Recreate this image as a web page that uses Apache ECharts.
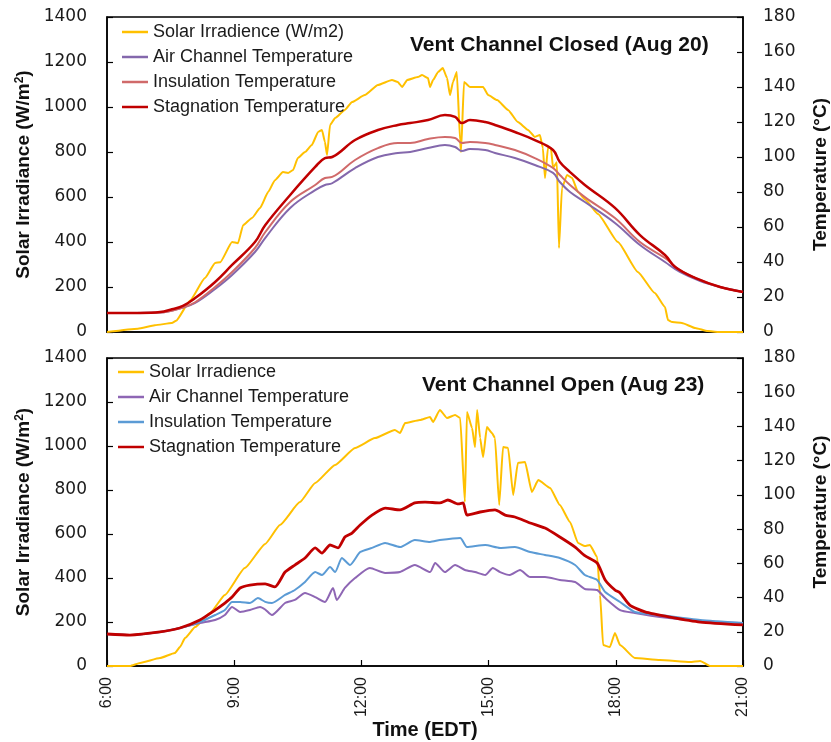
<!DOCTYPE html>
<html>
<head>
<meta charset="utf-8">
<script src="https://cdn.jsdelivr.net/npm/echarts@6/dist/echarts.min.js"></script>
<style>
  html, body { margin: 0; padding: 0; background: #fff; }
  #chart { width: 831px; height: 742px; }
</style>
</head>
<body>
<div id="chart"></div>
<script>
// x ticks (hours of day)
var X_MIN = 6, X_MAX = 21, X_STEP = 3;

// Aug 20, vent channel closed: [hour, value]
var closedSolar = [
  [6.00,0],[6.73,15],[7.13,30],[7.53,40],[7.63,50],[7.96,140],[8.31,240],[8.55,307],[8.67,310],[8.95,400],
  [9.09,395],[9.21,475],[9.42,507],[9.61,551],[9.80,622],[9.96,675],[10.15,711],[10.27,707],[10.39,720],[10.50,773],
  [10.67,800],[10.83,831],[10.98,889],[11.07,898],[11.14,844],[11.19,787],[11.26,920],[11.38,951],[11.61,987],[11.78,1022],
  [12.08,1053],[12.39,1098],[12.72,1120],[12.86,1111],[12.96,1089],[13.08,1120],[13.33,1133],[13.43,1142],[13.57,1129],[13.62,1089],
  [13.69,1120],[13.81,1156],[13.92,1173],[14.02,1129],[14.09,1053],[14.16,1111],[14.25,1156],[14.33,844],[14.35,800],[14.42,1111],
  [14.56,1089],[14.73,1089],[14.87,1089],[14.99,1053],[15.20,1031],[15.46,987],[15.69,933],[15.93,898],[16.09,867],[16.21,876],
  [16.28,818],[16.33,684],[16.40,818],[16.47,818],[16.52,729],[16.61,755],[16.66,373],[16.73,640],[16.85,698],[16.97,684],
  [17.11,622],[17.27,590],[17.58,525],[18.05,400],[18.52,267],[18.92,173],[19.16,111],[19.23,53],[19.33,44],[19.56,40],
  [19.87,18],[20.17,4],[20.41,0],[21.00,0]
];
var closedAir = [
  [6.00,10.9],[7.25,11.2],[7.79,14.0],[8.08,16.6],[8.55,24.6],[8.95,32.6],[9.49,45.7],[9.73,53.7],[10.32,70.9],[10.91,81.1],
  [11.14,84.0],[11.31,85.0],[11.85,93.7],[12.39,100.0],[12.86,102.3],[13.15,102.9],[13.57,105.1],[13.97,106.9],[14.21,105.7],[14.37,103.4],
  [14.56,104.6],[14.92,104.0],[15.15,102.3],[15.62,99.4],[16.09,95.4],[16.52,90.9],[16.68,85.7],[16.92,80.0],[17.27,74.3],[17.98,62.3],
  [18.57,49.7],[19.16,40.0],[19.51,34.3],[19.99,29.1],[20.46,25.7],[21.00,22.9]
];
var closedInsul = [
  [6.00,10.9],[7.25,11.2],[7.79,14.0],[8.08,17.0],[8.55,25.7],[8.95,34.3],[9.49,48.0],[9.73,57.0],[10.32,74.3],[10.91,84.0],
  [11.14,88.0],[11.31,88.6],[11.85,98.3],[12.39,105.1],[12.86,108.0],[13.15,108.0],[13.57,110.3],[13.97,111.4],[14.21,110.9],[14.37,108.0],
  [14.56,108.6],[14.92,108.0],[15.15,106.9],[15.62,104.0],[16.09,99.4],[16.52,93.7],[16.68,89.7],[16.92,84.0],[17.27,77.1],[17.98,65.1],
  [18.57,51.4],[19.16,42.3],[19.51,35.4],[19.99,29.7],[20.46,25.7],[21.00,22.9]
];
var closedStag = [
  [6.00,10.9],[6.78,10.9],[7.25,11.4],[7.53,13.0],[7.79,14.9],[8.08,19.4],[8.55,28.6],[8.95,38.3],[9.49,51.4],[9.73,61.0],
  [10.32,78.3],[10.91,94.3],[11.14,99.4],[11.31,100.0],[11.85,109.7],[12.39,115.4],[12.86,118.3],[13.15,119.4],[13.57,121.1],[13.97,124.0],
  [14.21,122.9],[14.37,119.4],[14.56,121.1],[14.92,120.0],[15.15,118.3],[15.62,114.3],[16.09,109.7],[16.52,104.0],[16.68,97.1],[16.92,91.4],
  [17.27,84.0],[17.98,70.9],[18.57,55.4],[19.16,44.0],[19.40,37.1],[19.87,30.9],[20.46,25.7],[21.00,22.9]
];

// Aug 23, vent channel open
var openSolar = [
  [6.00,0],[6.54,0],[6.78,14],[7.25,36],[7.60,59],[7.72,86],[7.84,127],[8.08,177],[8.43,241],[8.78,323],
  [9.25,445],[9.73,555],[10.08,641],[10.55,745],[10.91,832],[11.38,914],[11.85,991],[12.32,1036],[12.79,1073],[12.91,1059],
  [13.03,1104],[13.38,1118],[13.62,1132],[13.69,1109],[13.85,1164],[14.02,1127],[14.21,1141],[14.33,1127],[14.44,745],[14.49,1155],
  [14.61,1082],[14.68,995],[14.73,1164],[14.80,1036],[14.87,950],[14.96,1086],[15.08,1059],[15.15,1036],[15.25,732],[15.34,995],
  [15.46,991],[15.58,777],[15.69,923],[15.86,927],[16.02,791],[16.17,845],[16.45,809],[16.68,732],[16.92,655],[17.11,559],
  [17.27,545],[17.39,550],[17.56,495],[17.63,323],[17.70,95],[17.86,86],[17.98,150],[18.10,95],[18.45,36],[19.04,27],
  [19.75,18],[19.99,23],[20.22,0],[21.00,0]
];
var openAir = [
  [6.00,18.7],[6.54,18.1],[7.25,19.9],[7.72,22.2],[8.19,25.1],[8.55,26.9],[8.78,29.8],[8.95,34.5],[9.14,31.6],[9.37,32.7],
  [9.61,34.5],[9.73,33.0],[9.89,29.8],[10.20,36.8],[10.43,38.6],[10.67,42.7],[10.91,40.3],[11.14,37.4],[11.33,45.6],[11.42,38.6],
  [11.61,45.6],[11.85,51.4],[12.20,57.3],[12.56,54.4],[12.91,54.9],[13.26,59.0],[13.62,54.9],[13.74,60.2],[13.97,54.9],[14.21,59.0],
  [14.44,56.1],[14.68,54.9],[14.92,53.2],[15.10,57.3],[15.27,54.9],[15.50,53.2],[15.74,56.1],[15.98,52.0],[16.33,52.0],[16.68,50.3],
  [17.04,49.1],[17.27,45.0],[17.56,44.4],[17.75,39.7],[18.10,32.7],[18.45,31.0],[19.04,28.6],[19.99,26.3],[21.00,25.1]
];
var openInsul = [
  [6.00,18.7],[6.54,18.1],[7.25,19.9],[7.72,22.2],[8.19,25.7],[8.55,29.8],[8.78,32.7],[8.95,37.4],[9.14,37.4],[9.37,36.8],
  [9.56,39.7],[9.73,37.5],[9.89,36.8],[10.20,41.5],[10.43,44.4],[10.67,49.1],[10.91,54.9],[11.07,53.2],[11.26,57.9],[11.38,54.9],
  [11.54,63.1],[11.73,59.0],[11.97,66.6],[12.25,69.0],[12.56,71.9],[12.91,69.5],[13.26,73.6],[13.62,72.5],[13.85,73.6],[14.33,74.8],
  [14.49,69.5],[14.92,70.7],[15.27,69.0],[15.62,69.5],[15.98,66.6],[16.33,64.9],[16.68,63.1],[17.04,59.0],[17.27,53.2],[17.56,50.3],
  [17.75,43.2],[18.10,37.4],[18.45,31.6],[19.04,29.8],[19.99,26.9],[21.00,25.1]
];
var openStag = [
  [6.00,18.7],[6.54,18.1],[7.25,19.9],[7.72,22.2],[8.19,26.9],[8.55,32.7],[8.78,36.8],[8.95,40.3],[9.14,45.6],[9.37,47.3],
  [9.73,48.0],[9.96,46.2],[10.20,54.9],[10.43,59.0],[10.67,63.1],[10.91,69.0],[11.07,66.0],[11.26,70.7],[11.45,69.0],[11.61,75.4],
  [11.78,77.7],[11.97,82.4],[12.25,88.2],[12.56,92.3],[12.91,91.2],[13.26,95.3],[13.50,95.8],[13.85,95.3],[14.04,97.0],[14.28,94.7],
  [14.40,95.3],[14.49,88.2],[14.80,90.0],[15.15,91.2],[15.39,88.2],[15.62,87.1],[15.98,83.6],[16.33,80.6],[16.68,75.4],[17.04,69.5],
  [17.27,64.5],[17.56,60.2],[17.75,50.3],[17.98,44.4],[18.10,42.7],[18.33,35.6],[18.69,31.6],[19.28,28.6],[19.99,25.7],[21.00,24.0]
];

var topNames = ['Solar Irradience (W/m2)', 'Air Channel Temperature', 'Insulation Temperature', 'Stagnation Temperature'];
var botNames = ['Solar Irradience', 'Air Channel Temperature', 'Insulation Temperature', 'Stagnation Temperature'];
var SUFFIX = '#2';   // keeps bottom series names unique

var numFont = 'DejaVu Sans';
var txtFont = 'Liberation Sans';

function xAxisFor(grid, showLabels) {
    return {
        gridIndex: grid, type: 'value', min: X_MIN, max: X_MAX, interval: X_STEP,
        axisLine: { show: true, lineStyle: { color: '#000', width: 1.5 } },
        axisTick: { show: showLabels, inside: true, length: 6, lineStyle: { color: '#000', width: 1.2 } },
        axisLabel: {
            show: showLabels, rotate: 90, margin: 11, color: '#1a1a1a',
            fontFamily: txtFont, fontSize: 16,
            formatter: function (v) { return v + ':00'; }
        },
        splitLine: { show: false },
        name: showLabels ? 'Time (EDT)' : '',
        nameLocation: 'middle', nameGap: 54,
        nameTextStyle: { fontFamily: txtFont, fontSize: 20, fontWeight: 'bold', color: '#111' }
    };
}

function yAxisFor(grid, right) {
    return {
        gridIndex: grid, type: 'value', position: right ? 'right' : 'left',
        min: 0, max: right ? 180 : 1400, interval: right ? 20 : 200,
        axisLine: { show: true, lineStyle: { color: '#000', width: 1.5 } },
        axisTick: { show: true, inside: true, length: 6, lineStyle: { color: '#000', width: 1.2 } },
        axisLabel: {
            margin: 20, color: '#1a1a1a', fontFamily: numFont, fontSize: 17,
            formatter: function (v) { return String(v); }
        },
        splitLine: { show: false },
        name: right ? 'Temperature (°C)' : 'Solar Irradiance (W/m{sup|2})',
        nameLocation: 'middle', nameRotate: 90,
        nameGap: 68,
        nameTextStyle: {
            fontFamily: txtFont, fontSize: 19, fontWeight: 'bold', color: '#111',
            rich: { sup: { fontFamily: txtFont, fontSize: 12, fontWeight: 'bold', color: '#111', verticalAlign: 'top', padding: [0, 0, 8, 0] } }
        }
    };
}

function legendFor(names, top, left) {
    return {
        data: names, orient: 'vertical', left: left, top: top, padding: 0,
        icon: 'rect', itemWidth: 26, itemHeight: 2.5, itemGap: 5,
        textStyle: { fontFamily: txtFont, fontSize: 18, color: '#1a1a1a', lineHeight: 20 },
        formatter: function (n) { return n.replace(SUFFIX, ''); },
        selectedMode: false
    };
}

function line(name, data, xi, yi, color, width, smooth, monotone) {
    var s = {
        name: name, type: 'line', data: data, xAxisIndex: xi, yAxisIndex: yi,
        showSymbol: false, symbol: 'none', smooth: smooth,
        lineStyle: { color: color, width: width }, itemStyle: { color: color },
        z: 2
    };
    if (monotone) s.smoothMonotone = 'x';
    return s;
}

var chart = echarts.init(document.getElementById('chart'), null, { renderer: 'canvas' });

chart.setOption({
    animation: false,
    backgroundColor: '#fff',
    title: [
        { text: 'Vent Channel Closed (Aug 20)', left: 405, top: 30,
          textStyle: { fontFamily: txtFont, fontSize: 21, fontWeight: 'bold', color: '#111' } },
        { text: 'Vent Channel Open (Aug 23)', left: 417, top: 370,
          textStyle: { fontFamily: txtFont, fontSize: 21, fontWeight: 'bold', color: '#111' } }
    ],
    legend: [
        legendFor(topNames, 22, 122),
        legendFor(botNames.map(function (n) { return n + SUFFIX; }), 362, 118)
    ],
    grid: [
        { left: 107, top: 17, width: 636, height: 315, show: true, borderColor: '#000', borderWidth: 1.5,
          backgroundColor: 'transparent', containLabel: false, outerBoundsMode: 'none' },
        { left: 107, top: 358, width: 636, height: 308, show: true, borderColor: '#000', borderWidth: 1.5,
          backgroundColor: 'transparent', containLabel: false, outerBoundsMode: 'none' }
    ],
    xAxis: [xAxisFor(0, false), xAxisFor(1, true)],
    yAxis: [yAxisFor(0, false), yAxisFor(0, true), yAxisFor(1, false), yAxisFor(1, true)],
    series: [
        line(topNames[0], closedSolar, 0, 0, '#FFC000', 2, 0.15, true),
        line(topNames[1], closedAir, 0, 1, '#8468AC', 2, 0.4, false),
        line(topNames[2], closedInsul, 0, 1, '#D06A6A', 2, 0.4, false),
        line(topNames[3], closedStag, 0, 1, '#C00000', 2.5, 0.4, false),
        line(botNames[0] + SUFFIX, openSolar, 1, 2, '#FFC000', 2, 0.15, true),
        line(botNames[1] + SUFFIX, openAir, 1, 3, '#8E66B4', 2, 0.2, false),
        line(botNames[2] + SUFFIX, openInsul, 1, 3, '#5B9BD5', 2, 0.2, false),
        line(botNames[3] + SUFFIX, openStag, 1, 3, '#C00000', 2.8, 0.2, false)
    ]
});

window.onresize = function () { chart.resize(); };
</script>
</body>
</html>
